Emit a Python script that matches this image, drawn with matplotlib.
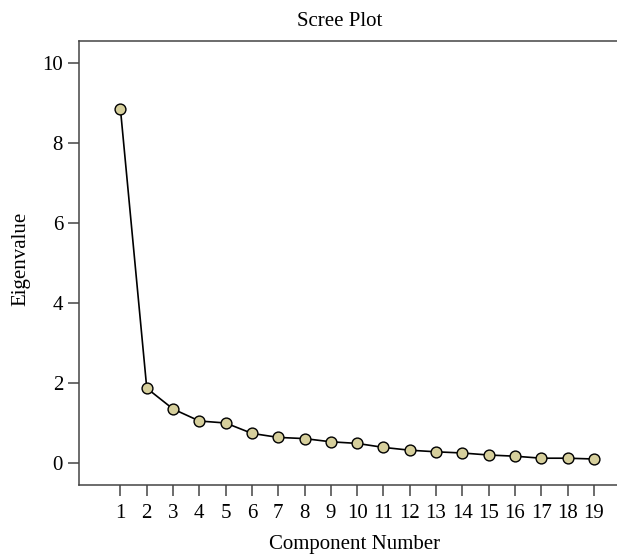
import matplotlib
matplotlib.use("Agg")
import matplotlib.pyplot as plt

components = list(range(1, 20))
eigenvalues = [8.84, 1.87, 1.35, 1.05, 1.00, 0.74, 0.64, 0.61, 0.53, 0.49,
               0.39, 0.32, 0.28, 0.25, 0.20, 0.17, 0.12, 0.12, 0.10]
yticks = [0, 2, 4, 6, 8, 10]

plt.rcParams['font.family'] = ['Liberation Serif', 'DejaVu Serif']

W, H = 617, 557
fig = plt.figure(figsize=(W / 100, H / 100), dpi=100)
ax = fig.add_axes([79 / W, 1 - 485 / H, 1 - 79 / W + 0.01, (485 - 41) / H])

ax.plot(components, eigenvalues, color='black', lw=1.2, marker='o', ms=7.8,
        mfc='#d6cf9c', mec='black', mew=1.0, zorder=3)

ax.set_xlim(1 - 41 / 26, 1 - 41 / 26 + 538 / 26)
ax.set_ylim(-0.55, 10.55)
ax.set_xticks(components)
ax.set_yticks(yticks)

for s in ['left', 'bottom', 'top']:
    ax.spines[s].set_color('#444444')
    ax.spines[s].set_linewidth(1.1)
ax.spines['right'].set_visible(False)

ax.tick_params(axis='both', direction='out', length=8, width=1.1, color='#444444',
               labelsize=15)
ax.tick_params(axis='y', pad=3.5)
ax.tick_params(axis='x', pad=6)

fig.text(340 / W, 1 - 22 / H, 'Scree Plot', ha='center', va='center', fontsize=15)
fig.text(21 / W, 1 - 259 / H, 'Eigenvalue', ha='center', va='center', rotation=90, fontsize=15)
fig.text(355 / W, 1 - 545 / H, 'Component Number', ha='center', va='center', fontsize=15)

fig.savefig('out.png', dpi=100)
